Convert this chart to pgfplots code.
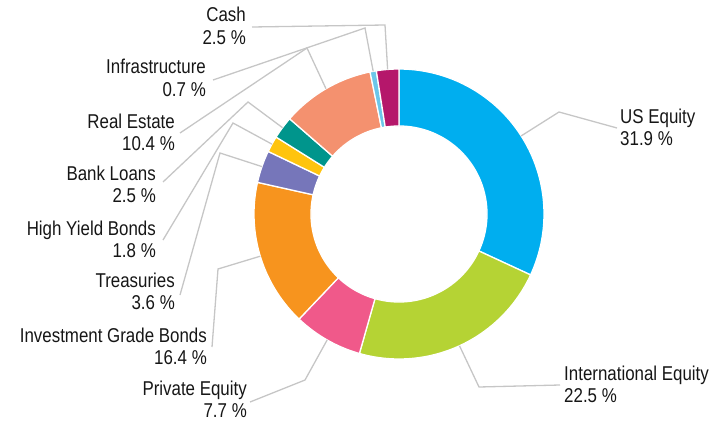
\documentclass[border=0pt]{standalone}
\usepackage{fontspec}
\setmainfont{Liberation Sans}[FakeStretch=0.845]
\usepackage{pgfplots}
\usepackage{pgfplotstable}
\pgfplotsset{compat=1.18}

% slice colours, clockwise from 12 o'clock
\definecolor{c0}{HTML}{00AEEF}
\definecolor{c1}{HTML}{B5D334}
\definecolor{c2}{HTML}{F0598A}
\definecolor{c3}{HTML}{F7941E}
\definecolor{c4}{HTML}{7676BA}
\definecolor{c5}{HTML}{FFC40E}
\definecolor{c6}{HTML}{00958C}
\definecolor{c7}{HTML}{F4916F}
\definecolor{c8}{HTML}{6CC6E9}
\definecolor{c9}{HTML}{B5176B}
\definecolor{leader}{HTML}{C6C6C6}
\definecolor{txt}{HTML}{161616}

% value, leader elbow (ex,ey), leader end (lx,ly), text anchor (tx,ty), side
\pgfplotstableread{
label value ex ey lx ly tx ty side
{US Equity} 31.9 559 112 617 128 620 123 west
{International Equity} 22.5 479 387 560 385 564 380 west
{Private Equity} 7.7 305 380 250 402 247 395 east
{Investment Grade Bonds} 16.4 218 269 212 347 207 342 east
Treasuries 3.6 220 153 180 295 175 287 east
{High Yield Bonds} 1.8 233 123 163 240 156 235 east
{Bank Loans} 2.5 248 102 163 182 156 180 east
{Real Estate} 10.4 307 48 180 133 175 128 east
Infrastructure 0.7 365 28 213 80 206 74 east
Cash 2.5 385 25 252 27 246 22 east
}\alloc

\begin{document}
\begin{tikzpicture}
\begin{axis}[
    width=721bp, height=423bp, scale only axis,
    xmin=0, xmax=721, ymin=0, ymax=423, y dir=reverse,
    hide axis, clip=false,
]
\path (rel axis cs:0,0) rectangle (rel axis cs:1,1);
\def\cx{399}\def\cy{214}\def\ro{145}\def\ri{88}
\def\cum{0}
\pgfplotsforeachungrouped \i in {0,...,9}{%
    \pgfplotstablegetelem{\i}{value}\of\alloc \let\v\pgfplotsretval
    \pgfplotstablegetelem{\i}{label}\of\alloc \let\lab\pgfplotsretval
    \pgfplotstablegetelem{\i}{ex}\of\alloc \let\ex\pgfplotsretval
    \pgfplotstablegetelem{\i}{ey}\of\alloc \let\ey\pgfplotsretval
    \pgfplotstablegetelem{\i}{lx}\of\alloc \let\lx\pgfplotsretval
    \pgfplotstablegetelem{\i}{ly}\of\alloc \let\ly\pgfplotsretval
    \pgfplotstablegetelem{\i}{tx}\of\alloc \let\tx\pgfplotsretval
    \pgfplotstablegetelem{\i}{ty}\of\alloc \let\ty\pgfplotsretval
    \pgfplotstablegetelem{\i}{side}\of\alloc \let\side\pgfplotsretval
    \pgfmathsetmacro{\sa}{90-3.6*\cum}
    \pgfmathsetmacro{\cum}{\cum+\v}
    \pgfmathsetmacro{\ea}{90-3.6*\cum}
    \pgfmathsetmacro{\ma}{(\sa+\ea)/2}
    \pgfmathsetmacro{\px}{\cx+\ro*cos(\ma)}
    \pgfmathsetmacro{\py}{\cy-\ro*sin(\ma)}
    \pgfmathsetmacro{\tyb}{\ty+22.5}
    \edef\temp{%
        \noexpand\fill[fill=c\i, draw=white, line width=1.3bp]
            plot[domain=\sa:\ea, samples=80] ({\cx+\ro*cos(\noexpand\x)},{\cy-\ro*sin(\noexpand\x)})
            -- plot[domain=\ea:\sa, samples=80] ({\cx+\ri*cos(\noexpand\x)},{\cy-\ri*sin(\noexpand\x)})
            -- cycle;
        \noexpand\draw[leader, line width=1.3bp] (\lx,\ly) -- (\ex,\ey) -- (\px,\py);
        \noexpand\node[anchor=base \side, inner sep=0pt, text=txt,
            font=\noexpand\fontsize{20bp}{22bp}\noexpand\selectfont] at (\tx,\ty) {\lab};
        \noexpand\node[anchor=base \side, inner sep=0pt, text=txt,
            font=\noexpand\fontsize{20bp}{22bp}\noexpand\selectfont] at (\tx,\tyb) {\v\space\noexpand\%};
    }%
    \temp
}
\end{axis}
\end{tikzpicture}
\end{document}
